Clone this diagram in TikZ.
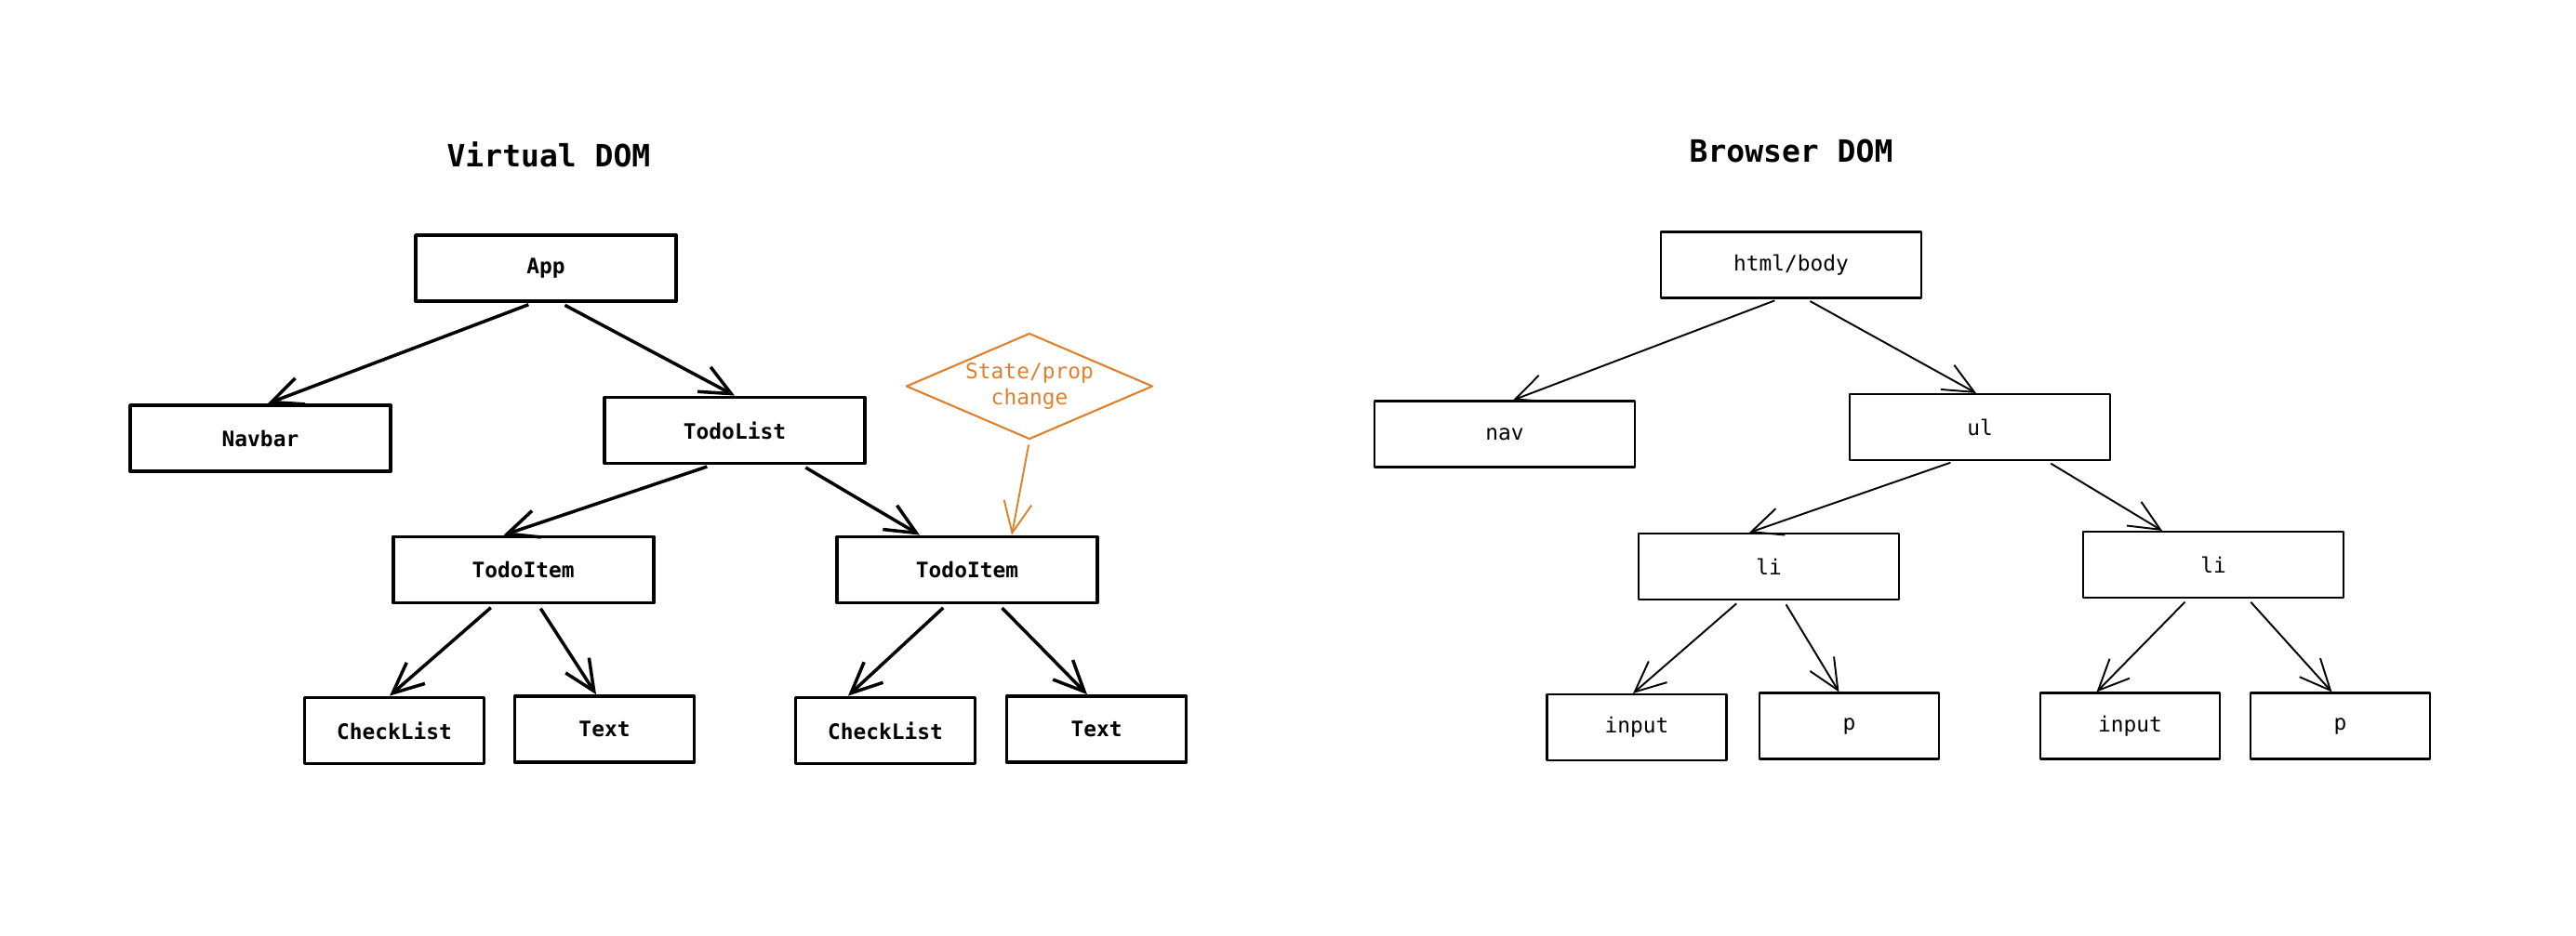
\documentclass[tikz,border=0pt]{standalone}
\usepackage{fontspec}
\setmonofont{DejaVu Sans Mono}
\usetikzlibrary{arrows.meta,shapes.geometric}
\definecolor{chgorange}{RGB}{222,128,44}

\begin{document}
\begin{tikzpicture}[
line join=round,
every node/.style={font=\ttfamily\fontsize{6.5}{8}\selectfont},
]
% \draw [help lines] (0,0) grid (27.7,-10.06);

\tikzset{
	vbox/.style={draw, line width=1.1pt, inner sep=0pt, minimum width=2.8cm, minimum height=0.71cm, font=\ttfamily\bfseries\fontsize{6.5}{8}\selectfont},
	vleaf/.style={vbox, minimum width=1.93cm},
	bbox/.style={draw, line width=0.6pt, inner sep=0pt, minimum width=2.8cm, minimum height=0.71cm},
	bleaf/.style={bbox, minimum width=1.93cm},
	varr/.style={-{Straight Barb[length=3.3mm, width=3mm]}, line width=1pt, shorten <=0.5mm},
	barr/.style={-{Straight Barb[length=3.3mm, width=3mm]}, line width=0.55pt, shorten <=0.5mm},
	chg/.style={diamond, draw=chgorange, text=chgorange, line width=0.6pt, aspect=2.3, inner sep=0pt, minimum width=2.65cm, minimum height=1.14cm, align=center},
	treetitle/.style={font=\ttfamily\bfseries\fontsize{9.4}{11}\selectfont},
}

\useasboundingbox (0,0) rectangle (27.7,-10.06);

% virtual dom
\node[treetitle] (vtitle) at (5.90,-1.66) {Virtual DOM};
\node[vbox] (app) at (5.87,-2.885) {App};
\node[vbox] (navbar) at (2.80,-4.715) {Navbar};
\node[vbox] (todolist) at (7.90,-4.63) {TodoList};
\node[vbox] (itemA) at (5.626,-6.13) {TodoItem};
\node[vbox] (itemB) at (10.40,-6.13) {TodoItem};
\node[vleaf] (checkA) at (4.24,-7.86) {CheckList};
\node[vleaf] (textA) at (6.50,-7.845) {Text};
\node[vleaf] (checkB) at (9.52,-7.86) {CheckList};
\node[vleaf] (textB) at (11.79,-7.845) {Text};
\node[chg] (change) at (11.07,-4.155) {State/prop\\change};

\draw[varr] ([xshift=-1.4mm]app.south) -- ([xshift=0.8mm]navbar.north);
\draw[varr] ([xshift=1.6mm]app.south) -- (todolist.north);
\draw[varr] ([xshift=-2.5mm]todolist.south) -- ([xshift=-2.1mm]itemA.north);
\draw[varr] ([xshift=7.2mm]todolist.south) -- ([xshift=-5.1mm]itemB.north);
\draw[varr] ([xshift=-3.1mm]itemA.south) -- ([xshift=-0.5mm]checkA.north);
\draw[varr] ([xshift=1.6mm]itemA.south) -- ([xshift=-0.9mm]textA.north);
\draw[varr] ([xshift=-2.2mm]itemB.south) -- ([xshift=-4mm]checkB.north);
\draw[varr] ([xshift=3.4mm]itemB.south) -- ([xshift=-1mm]textB.north);
\draw[barr, chgorange] (change.south) -- ([xshift=4.8mm]itemB.north);

% browser dom
\node[treetitle] (btitle) at (19.26,-1.62) {Browser DOM};
\node[bbox] (html) at (19.26,-2.85) {html/body};
\node[bbox] (nav) at (16.18,-4.67) {nav};
\node[bbox] (ul) at (21.29,-4.595) {ul};
\node[bbox] (liA) at (19.02,-6.095) {li};
\node[bbox] (liB) at (23.80,-6.075) {li};
\node[bleaf] (inputA) at (17.60,-7.825) {input};
\node[bleaf] (pA) at (19.885,-7.81) {p};
\node[bleaf] (inputB) at (22.905,-7.81) {input};
\node[bleaf] (pB) at (25.165,-7.81) {p};

\draw[barr] ([xshift=-1.3mm]html.south) -- ([xshift=0.9mm]nav.north);
\draw[barr] ([xshift=1.6mm]html.south) -- ([xshift=-0.4mm]ul.north);
\draw[barr] ([xshift=-2.7mm]ul.south) -- ([xshift=-2.1mm]liA.north);
\draw[barr] ([xshift=7.2mm]ul.south) -- ([xshift=-5.5mm]liB.north);
\draw[barr] ([xshift=-3.1mm]liA.south) -- ([xshift=-0.4mm]inputA.north);
\draw[barr] ([xshift=1.6mm]liA.south) -- ([xshift=-1.1mm]pA.north);
\draw[barr] ([xshift=-2.7mm]liB.south) -- ([xshift=-3.6mm]inputB.north);
\draw[barr] ([xshift=3.7mm]liB.south) -- ([xshift=-0.9mm]pB.north);

\end{tikzpicture}
\end{document}
